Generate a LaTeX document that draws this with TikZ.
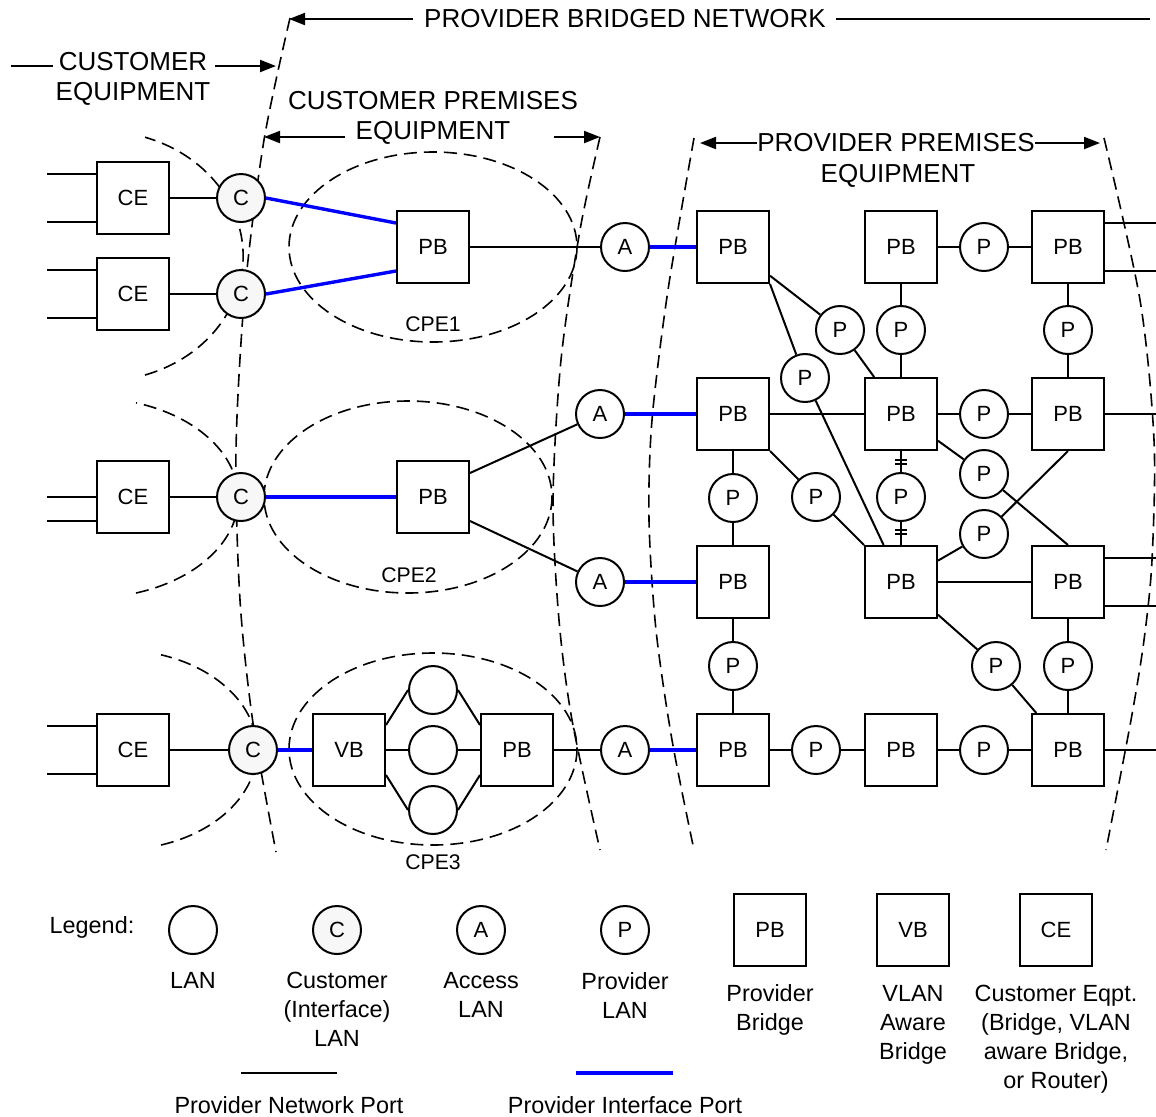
\documentclass[tikz,border=0pt]{standalone}
\usepackage{fontspec}
\setmainfont{Liberation Sans}
\usetikzlibrary{arrows.meta,calc,positioning}

\begin{document}
\begin{tikzpicture}[x=0.5pt,y=-0.5pt,
  lan/.style={circle,draw,line width=1pt,fill=white,minimum size=24pt,inner sep=0pt,font=\fontsize{11}{12}\selectfont},
  cust/.style={lan,fill=gray!6},
  bridge/.style={rectangle,draw,line width=1pt,fill=white,minimum size=36pt,inner sep=0pt,font=\fontsize{11}{12}\selectfont},
  link/.style={line width=1pt},
  iface/.style={line width=1.7pt,blue},
  bound/.style={line width=0.8pt,dash pattern=on 6.5pt off 3.5pt},
  harrow/.style={line width=1pt,-{Triangle[length=8pt,width=6pt]}},
  head/.style={font=\fontsize{13}{15}\selectfont,inner sep=0pt,align=center},
  lbl/.style={font=\fontsize{10.6}{12}\selectfont,inner sep=0pt},
  legtext/.style={font=\fontsize{11.7}{14.5}\selectfont,inner sep=0pt,align=center,anchor=north}]
\useasboundingbox (0,0) rectangle (1156,1116);

\draw[bound] plot[smooth] coordinates {(290,18) (264,140) (245,290) (236,450) (240,600) (253,723) (276,852)};
\draw[bound] plot[smooth] coordinates {(600,137) (580,230) (561,360) (553,500) (559,620) (572,720) (600,850)};
\draw[bound] plot[smooth] coordinates {(694,138) (668,290) (652,420) (649,520) (656,630) (672,740) (694,850)};
\draw[bound] plot[smooth] coordinates {(1104,138) (1140,300) (1154,440) (1152,560) (1144,640) (1131,720) (1106,850)};
\draw[bound] (145,375) arc[start angle=72,end angle=-72,x radius=142,y radius=125];
\draw[bound] (136,593) arc[start angle=72,end angle=-72,x radius=148,y radius=100];
\draw[bound] (161,845) arc[start angle=72,end angle=-72,x radius=139,y radius=100];
\draw[bound] (433,247) ellipse[x radius=144,y radius=95];
\draw[bound] (408,497) ellipse[x radius=144,y radius=96];
\draw[bound] (433,749) ellipse[x radius=144,y radius=96];

\node[head] (hdNet) at (625,19) {PROVIDER BRIDGED NETWORK};
\coordinate (netL) at (289,19);
\coordinate (netR) at (1150,19);
\draw[harrow] ($(hdNet.west)+(-11,0)$) -- (netL);
\draw[link] ($(hdNet.east)+(10,0)$) -- (netR);
\node[head,anchor=north] (hdCust) at (133,52) {CUSTOMER\\EQUIPMENT};
\coordinate (custL) at (11,66);
\coordinate (custR) at (276,66);
\draw[link] (custL) -- ($(custL -| hdCust.west)+(-2,0)$);
\draw[harrow] ($(custR -| hdCust.east)+(4,0)$) -- (custR);
\node[head,anchor=north] (hdCpe) at (433,91) {CUSTOMER PREMISES\\EQUIPMENT};
\coordinate (cpeL) at (264,137);
\coordinate (cpeR) at (600,137);
\draw[harrow] ($(cpeL)+(81,0)$) -- (cpeL);
\draw[harrow] ($(cpeR)+(-46,0)$) -- (cpeR);
\node[head] (hdPpe) at (896,143) {PROVIDER PREMISES};
\node[head] (hdPpe2) at (898,176) {EQUIPMENT};
\coordinate (ppeL) at (700,143);
\coordinate (ppeR) at (1100,143);
\draw[harrow] (hdPpe.west) -- (ppeL);
\draw[harrow] (hdPpe.east) -- (ppeR);

\foreach \n/\y in {ceA/198,ceB/294,ceC/497,ceD/750}
  \node[bridge] (\n) at (133,\y) {CE};
\foreach \n/\x/\y in {cA/241/198,cB/241/294,cC/241/497,cD/253/750}
  \node[cust] (\n) at (\x,\y) {C};
\node[bridge] (pbA) at (433,247) {PB};
\node[bridge] (pbB) at (433,497) {PB};
\node[bridge] (vb) at (349,750) {VB};
\node[bridge] (pbC) at (517,750) {PB};
\foreach \n/\y in {lanA/690,lanB/750,lanC/810}
  \node[lan] (\n) at (433,\y) {};
\node[lbl] (cpe1) at (433,324) {CPE1};
\node[lbl] (cpe2) at (409,575) {CPE2};
\node[lbl] (cpe3) at (433,862) {CPE3};
\foreach \n/\x/\y in {aA/625/247,aB/600/414,aC/600/582,aD/625/750}
  \node[lan] (\n) at (\x,\y) {A};
\foreach \r/\y in {1/247,2/414,3/582,4/750}
  \foreach \c/\x in {1/733,2/901,3/1068}
    \node[bridge] (pb\r\c) at (\x,\y) {PB};
\foreach \n/\x/\y in {p1/984/247,p2/840/330,p3/901/330,p4/1068/330,p5/805/378,p6/984/414,p7/733/498,p8/816/497,p9/901/497,p10/984/474,p11/984/534,p12/733/666,p13/996/666,p14/1068/666,p15/816/750,p16/984/750}
  \node[lan] (\n) at (\x,\y) {P};

\foreach \n/\d in {ceA/-24,ceA/24,ceB/-24,ceB/24,ceC/0,ceC/24,ceD/-24,ceD/24}
  \draw[link] ($(\n.west)+(0,\d)$) -- +(-49,0);
\foreach \a/\b in {ceA/cA,ceB/cB,ceC/cC,ceD/cD}
  \draw[link] (\a) -- (\b);
\draw[iface] (cA.east) -- ($(pbA.west)+(0,-24)$);
\draw[iface] (cB.east) -- ($(pbA.west)+(0,24)$);
\draw[iface] (cC) -- (pbB);
\draw[iface] (cD) -- (vb);
\draw[link] (pbA) -- (aA);
\draw[link] ($(pbB.east)+(0,-24)$) -- (aB);
\draw[link] ($(pbB.east)+(0,24)$) -- (aC);
\draw[link] (vb) -- (lanB) -- (pbC);
\draw[link] ($(vb.east)+(0,-25)$) -- (lanA.west);
\draw[link] (lanA.east) -- ($(pbC.west)+(0,-25)$);
\draw[link] ($(vb.east)+(0,25)$) -- (lanC.west);
\draw[link] (lanC.east) -- ($(pbC.west)+(0,25)$);
\draw[link] (pbC) -- (aD);
\foreach \a/\b in {aA/pb11,aB/pb21,aC/pb31,aD/pb41}
  \draw[iface] (\a) -- (\b);

\foreach \a/\b/\c in {pb12/p1/pb13,pb11/p2/pb22,pb12/p3/pb22,pb13/p4/pb23,pb22/p6/pb23,pb21/p7/pb31,pb21/p8/pb32,pb22/p9/pb32,pb31/p12/pb41,pb32/p13/pb43,pb33/p14/pb43,pb41/p15/pb42,pb42/p16/pb43}
  \draw[link] (\a) -- (\b) -- (\c);
\draw[link] (pb11.south east) -- (p5) -- (pb32);
\draw[link] (pb22) -- (p10) -- (pb33.north);
\draw[link] (pb32) -- (p11) -- (pb23.south);
\draw[link] (pb21) -- (pb22);
\draw[link] (pb32) -- (pb33);
\foreach \d in {9,13}
  \draw[link] ($(pb22.south)+(-6,\d)$) -- +(12,0);
\foreach \d in {-15,-11}
  \draw[link] ($(pb32.north)+(-6,\d)$) -- +(12,0);
\foreach \n/\d in {pb13/-24,pb13/24,pb23/0,pb33/-24,pb33/24,pb43/0}
  \draw[link] ($(\n.east)+(0,\d)$) -- +(52,0);

\node[legtext,anchor=center] (lgHead) at (92,927) {Legend:};
\node[lan] (lgLan) at (193,930) {};
\node[cust] (lgC) at (337,930) {C};
\node[lan] (lgA) at (481,930) {A};
\node[lan] (lgP) at (625,930) {P};
\node[bridge] (lgPB) at (770,930) {PB};
\node[bridge] (lgVB) at (913,930) {VB};
\node[bridge] (lgCE) at (1056,930) {CE};
\node[legtext] (lgLanT) at (193,972) {LAN};
\node[legtext] (lgCT) at (337,972) {Customer\\(Interface)\\LAN};
\node[legtext] (lgAT) at (481,972) {Access\\LAN};
\node[legtext] (lgPT) at (625,972) {Provider\\LAN};
\node[legtext] (lgPBT) at (770,984) {Provider\\Bridge};
\node[legtext] (lgVBT) at (913,985) {VLAN\\Aware\\Bridge};
\node[legtext] (lgCET) at (1056,985) {Customer Eqpt.\\(Bridge, VLAN\\aware Bridge,\\or Router)};
\coordinate (netA) at (241,1073);
\coordinate (netB) at (337,1073);
\draw[link] (netA) -- (netB);
\coordinate (ifA) at (576,1073);
\coordinate (ifB) at (673,1073);
\draw[iface] (ifA) -- (ifB);
\node[legtext,anchor=center] (lgNet) at (289,1105) {Provider Network Port};
\node[legtext,anchor=center] (lgIf) at (625,1105) {Provider Interface Port};
\end{tikzpicture}
\end{document}
